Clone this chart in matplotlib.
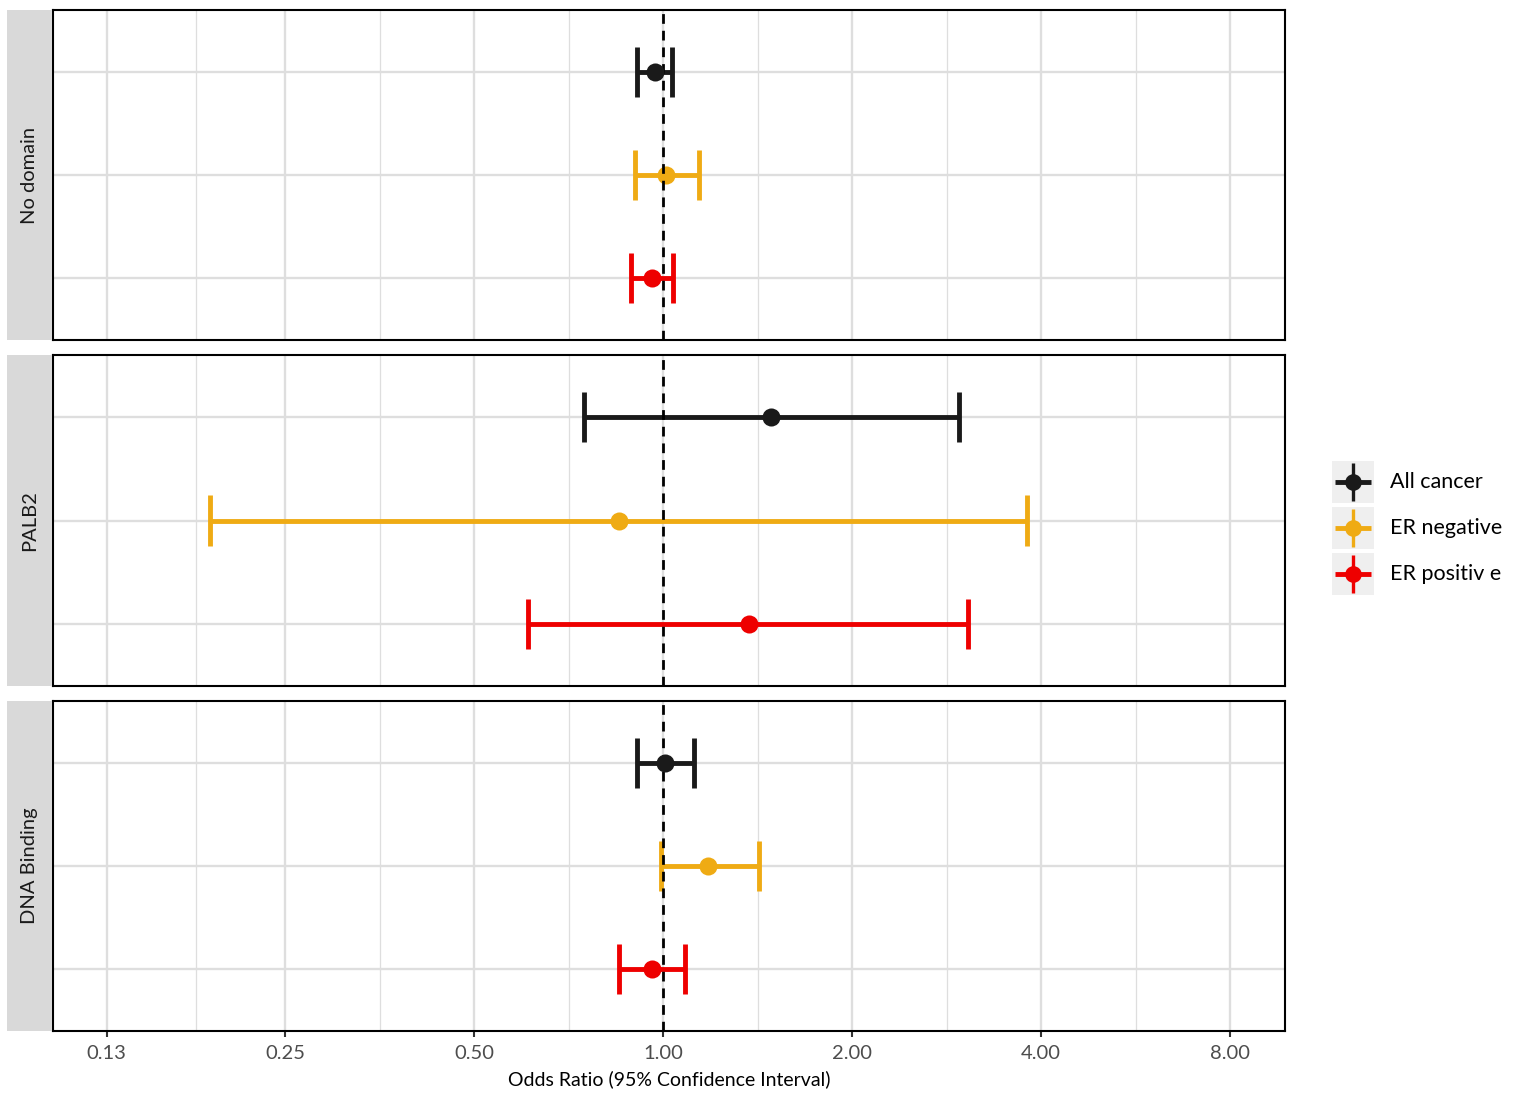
import numpy as np
import matplotlib
matplotlib.use("Agg")
import matplotlib.pyplot as plt
from matplotlib.patches import Rectangle

plt.rcParams['font.family'] = ['Lato', 'DejaVu Sans']

panels = ["No domain", "PALB2", "DNA Binding"]
groups = ["All cancer", "ER negative", "ER positive"]
legend_labels = ["All cancer", "ER negative", "ER positiv e"]
colors = ["#1a1a1a", "#efab14", "#ee0000"]

# odds ratio estimates per panel, per group
or_est = [[0.971, 1.011, 0.961],
          [1.486, 0.851, 1.371],
          [1.007, 1.179, 0.961]]
ci_low = [[0.909, 0.902, 0.889],
          [0.748, 0.190, 0.610],
          [0.909, 0.993, 0.851]]
ci_high = [[1.034, 1.141, 1.037],
           [2.961, 3.800, 3.060],
           [1.120, 1.422, 1.084]]

xticks = [0.13, 0.25, 0.5, 1, 2, 4, 8]
xticklabels = ["0.13", "0.25", "0.50", "1.00", "2.00", "4.00", "8.00"]

W, H = 1529, 1098
fig = plt.figure(figsize=(W/100, H/100), dpi=100)

panel_px = [(10, 340), (355, 686), (701, 1031)]
px_left, px_right = 53, 1285
strip_left = 7

xlim = (2**(-3.228), 2**(3.291))
ypos = [3, 2, 1]
minors = [np.sqrt(xticks[i]*xticks[i+1]) for i in range(len(xticks)-1)]

for pi, (top, bot) in enumerate(panel_px):
    ax = fig.add_axes([px_left/W, 1-bot/H, (px_right-px_left)/W, (bot-top)/H])
    ax.set_xscale('log', base=2)
    ax.set_xlim(*xlim)
    ax.set_ylim(0.4, 3.6)
    for m in minors:
        ax.axvline(m, color='#dedede', lw=0.9, zorder=0)
    for t in xticks:
        ax.axvline(t, color='#dedede', lw=1.7, zorder=0)
    for y in ypos:
        ax.axhline(y, color='#dedede', lw=1.7, zorder=0)
    for gi in range(3):
        y = ypos[gi]
        c = colors[gi]
        ax.plot([ci_low[pi][gi], ci_high[pi][gi]], [y, y], color=c, lw=3.5, zorder=3, solid_capstyle='butt')
        for xe in (ci_low[pi][gi], ci_high[pi][gi]):
            ax.plot([xe, xe], [y-0.245, y+0.245], color=c, lw=3.5, zorder=3, solid_capstyle='butt')
        zp = 3.5 if gi == 1 else 5
        ax.plot([or_est[pi][gi]], [y], 'o', color=c, ms=13, mec='none', zorder=zp)
    ax.axvline(1, color='black', lw=2.0, ls=(0, (3.5, 2.5)), zorder=4)
    ax.set_yticks([])
    for s in ax.spines.values():
        s.set_color('black')
        s.set_linewidth(1.5)
    ax.xaxis.set_minor_locator(matplotlib.ticker.NullLocator())
    ax.set_xticks(xticks)
    if pi == 2:
        ax.set_xticklabels(xticklabels, fontsize=14.5, color='#4d4d4d')
        ax.tick_params(axis='x', which='major', length=4, width=1.5, color='#333333', pad=6)
        ax.set_xlabel("Odds Ratio (95% Confidence Interval)", fontsize=14, color='black', labelpad=6)
    else:
        ax.set_xticklabels([])
        ax.tick_params(axis='x', which='major', length=0)
    # strip
    sax = fig.add_axes([strip_left/W, 1-bot/H, (px_left-strip_left-1)/W, (bot-top)/H])
    sax.set_facecolor('#d9d9d9')
    sax.set_xticks([]); sax.set_yticks([])
    for s in sax.spines.values():
        s.set_visible(False)
    sax.text(0.5, 0.5, panels[pi], rotation=90, ha='center', va='center', fontsize=14.5,
             color='#1a1a1a', transform=sax.transAxes)

# legend
lax = fig.add_axes([0, 0, 1, 1], facecolor='none')
lax.set_xlim(0, W); lax.set_ylim(H, 0)
lax.axis('off')
key_tops = [460, 506, 552]
for gi in range(3):
    kt = key_tops[gi]
    c = colors[gi]
    lax.add_patch(Rectangle((1332, kt+1), 42, 42, facecolor='#efefef', edgecolor='none'))
    cy = kt + 22
    lax.plot([1335, 1371], [cy, cy], color=c, lw=3.5, solid_capstyle='butt')
    lax.plot([1353, 1353], [cy-19, cy+19], color=c, lw=2.4, solid_capstyle='butt')
    lax.plot([1353], [cy], 'o', color=c, ms=12, mec='none')
    lax.text(1390, cy, legend_labels[gi], fontsize=15.5, va='center', ha='left', color='black')

fig.savefig("out.png", dpi=100)
